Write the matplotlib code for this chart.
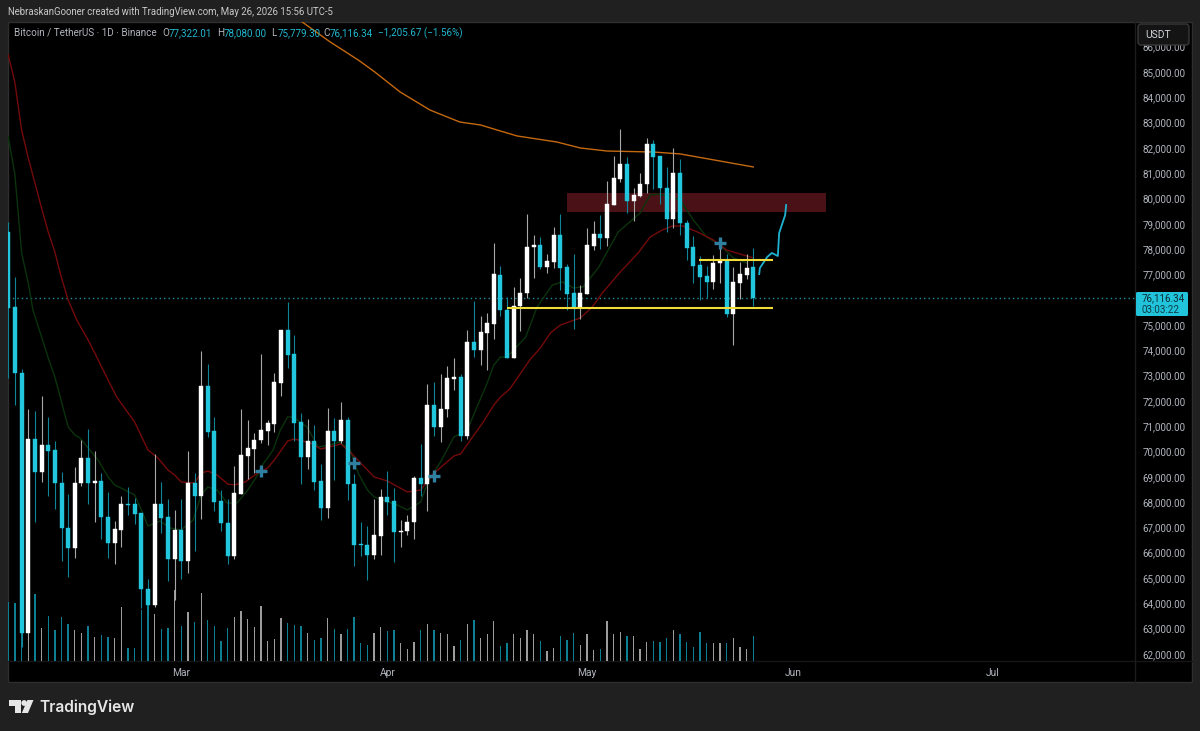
import matplotlib
matplotlib.use("Agg")
import matplotlib.pyplot as plt
from matplotlib.patches import Rectangle, FancyBboxPatch, Polygon, Circle
from matplotlib.transforms import ScaledTranslation

opens = [78715,75750,73140,62860,70530,69225,70295,70095,68790,67015,
 66220,68790,69780,68790,68870,67450,66420,66935,67960,67960,
 67605,64600,63970,67960,67450,65785,66935,65710,68790,68280,
 72625,70850,68080,67210,65905,68355,69860,70135,70490,70850,
 71125,72745,74840,73890,71205,69820,70450,68870,67805,70850,
 70450,71280,68750,66380,66340,65945,66695,68240,68080,66855,
 66895,67250,68990,68750,71875,71005,71715,72900,72980,70650,
 74365,74050,74720,75075,77015,75630,73735,75790,76300,78120,
 78200,77330,77530,78595,77330,76300,75710,76265,78160,78635,
 78475,79780,80810,81400,79940,80135,80610,82190,81720,80450,
 79230,81045,79070,78120,77410,76975,76735,77490,77570,75470,
 76700,77015,77322]
closes = [75710,73140,62860,70530,69225,70295,70055,68790,67015,66220,
 68790,69780,68790,68870,67450,66420,66975,67960,67920,67565,
 64600,63970,67960,67410,65785,66935,65710,68790,68280,72625,
 70810,68040,67210,65905,68395,69900,70175,70490,70885,71165,
 72785,74840,73850,71165,69820,70450,68830,67805,70850,70450,
 71280,68750,66340,66340,65945,66735,68240,68040,66855,66895,
 67250,68990,68750,71875,71005,71715,72940,72980,70650,74365,
 74050,74760,75115,77055,75630,73735,75790,76300,78120,78200,
 77330,77570,78595,77290,76265,75710,76300,78200,78635,78475,
 79820,80850,81400,79940,80175,80610,82190,81680,80450,79230,
 81045,79070,78080,77370,76935,76735,77490,77570,75470,76735,
 77055,77290,76116]
highs = [79110,76935,73300,71715,71640,72230,71400,70450,69225,68355,
 69425,70490,70925,70055,69185,68435,67290,68280,68635,68200,
 67605,65000,69940,68830,68160,67725,68160,70055,69185,74010,
 73495,71400,68515,68160,69465,71715,71280,70770,73890,71280,
 73140,74840,75950,74640,71560,71320,71085,69540,71755,71360,
 71995,71400,69145,67250,67090,68160,68555,69265,68595,67330,
 67525,69070,70335,72705,72785,73100,73415,73730,73100,74840,
 75985,75395,75510,78280,77370,76145,76540,76895,79425,78595,
 78515,77845,78910,79425,77450,77845,76620,78870,79150,79385,
 80730,81720,82785,81680,80450,81045,82430,82350,81720,81285,
 82035,81600,79190,78555,77765,77370,77805,78435,77845,77330,
 77530,77845,78080]
lows = [72940,71875,62300,62585,67250,68830,68280,67765,65710,65075,
 65825,68670,67960,67250,66580,65825,65590,66260,67525,67170,
 63850,63575,63890,66815,64920,64165,65000,65235,66105,67370,
 70610,67685,66895,65590,65785,68355,68950,69185,70375,70295,
 70810,72230,73340,70450,68750,69345,68515,67330,67410,68910,
 70375,68120,65510,65905,64960,65785,65945,67525,65670,66260,
 66735,66580,68280,67685,70650,70410,71400,72470,70450,70530,
 73770,73455,73260,74485,75395,73735,73735,74800,76105,76895,
 77250,77095,77290,76420,75630,74880,75275,76265,78000,78040,
 78160,79780,80690,79465,79150,80095,80255,80415,79820,78715,
 78870,78595,77605,76700,76025,76105,76460,76700,75355,74250,
 76065,76855,75779]
volumes = [177,175,200,200,201,99,135,94,132,111,
 94,84,104,72,78,72,68,161,39,39,
 152,168,141,96,99,213,106,147,116,204,
 123,105,61,99,132,149,125,102,164,60,
 65,130,114,108,104,84,63,70,130,96,
 82,96,132,54,48,84,102,90,93,54,
 36,56,94,111,92,84,82,44,63,111,
 123,68,80,120,44,54,80,70,92,80,
 60,30,39,75,63,84,48,80,32,36,
 120,80,87,75,75,36,58,60,58,70,
 92,82,58,42,87,54,54,54,54,70,
 42,36,75]

ma_red_idx = [0,1,2,3,4,5,6,7,8,9,10.3,12,13,15,16.3,19,21,22.5,24,25,26,28,29,30,31.4,33,34,35.6,37.5,39,40,42,43,45.4,47,50,51.4,54,55,57,60,62,63.7,67,68,71.4,73,74,75.4,78.5,80,81.5,83,86,87.8,89.3,92,94.7,96.5,98.3,99.8,101.4,103.6,106,108,110,112]
ma_red_val = [85710,84605,82745,81640,80650,79660,78715,77925,76895,76025,75235,74445,73930,72865,72190,71200,70095,69780,69305,69110,68830,68790,69185,69265,69110,68750,68715,68830,69185,69385,69700,70450,70530,70375,70135,70335,70015,69305,69030,68870,68435,68515,69110,69860,69940,71200,71875,72190,72510,73690,74130,74720,75035,75315,75750,76300,77130,77885,78515,78790,78950,78950,78715,78400,78000,77845,77690]
ma_green_idx = [0,1,2,3,3.7,5,6.1,7,9,10,10.8,12,13.5,15,16,19,20,21,22.8,24.3,26,27.8,29,30,31.4,32.9,34.4,36,37.5,38,39.8,40.9,42,42.8,44.9,46.6,48.3,49.8,51.4,52.6,54,55,58.5,60,62,63,64.9,67,69,72,73,74,75,77.8,79.5,81.8,83.3,85,86.4,88.7,91.7,95,96.5,98,101,103,105,107,109,111]
ma_green_val = [82470,80965,77885,76700,75630,74565,73655,72985,71005,70690,70570,70175,69700,69030,68715,68320,67725,67090,67290,67015,66935,67330,68320,68635,68515,68000,68000,68515,69110,69425,70095,70885,71400,71400,71005,70215,70295,70410,70095,69185,68515,68240,67920,67725,68040,68790,69585,70610,70885,72745,73455,73770,73770,74565,75750,76620,76740,76500,76540,77290,78715,79465,80175,80215,79980,79190,78515,78200,77690,77490]
ma_orange_idx = [44,48.4,52.6,55.1,58.9,63.4,67.9,71,73.5,76.5,82.5,86,90,97,101,107,112]
ma_orange_val = [87050,86225,85515,85040,84250,83535,83060,82945,82745,82510,82270,82035,81915,81875,81800,81520,81285]
path_idx = [112.9,113,114.1,114.8,115.7,115.9,116.8,116.95]
path_val = [77050,77290,77725,77885,77765,78675,79385,79780]
marker_idx = [38,52,64,107]
marker_val = [69265,69580,69070,78280]
zone_idx = [84,123]
zone_val = [79505,80255]
level_upper = (103.8,115,77607)
level_lower = (75,115,75710)
last_price = 76116.34
price_ticks = [p for p in range(62000,87000,1000) if p != 76000]
month_idx = [26,57,87,118,148]
month_names = ["Mar","Apr","May","Jun","Jul"]

W,H = 1200,731
UP,DOWN = "#ffffff","#22c7de"
GREY = "#b2b5be"
FONT = ["Roboto","DejaVu Sans"]
plt.rcParams["font.family"] = FONT

fig = plt.figure(figsize=(W/100,H/100),dpi=100,facecolor="#202020")
def rect(x0,y0,x1,y1):
    return [x0/W,1-y1/H,(x1-x0)/W,(y1-y0)/H]

bg = fig.add_axes([0,0,1,1],zorder=0)
bg.set_xlim(0,W); bg.set_ylim(H,0); bg.axis("off")
bg.add_patch(Rectangle((8,22),1184,660,fc="#000000",ec="#2e2e2e",lw=1))
bg.plot([8,1192],[661,661],color="#161616",lw=1)
bg.plot([1135,1135],[22,682],color="#1c1c1c",lw=1)

xlim = (-0.045,169.4)
ylim = (61755,87015)
vol = fig.add_axes(rect(8,22,1135,661),zorder=1)
vol.set_xlim(*xlim); vol.set_ylim(0,1917); vol.axis("off")
idx = list(range(len(closes)))
vcol = ["#9c9c9c" if c>=o else "#0c7f92" for o,c in zip(opens,closes)]
vol.bar(idx,volumes,width=0.2,color=vcol,linewidth=0)

ax = fig.add_axes(rect(8,22,1135,661),zorder=2)
ax.patch.set_alpha(0)
ax.set_xlim(*xlim); ax.set_ylim(*ylim)
for s in ax.spines.values(): s.set_visible(False)
ax.yaxis.tick_right()
ax.set_yticks(price_ticks)
ax.set_yticklabels([f"{p:,.2f}" for p in price_ticks],color=GREY,fontsize=7.1)
ax.set_xticks(month_idx)
ax.set_xticklabels(month_names,color=GREY,fontsize=7.4)
ax.tick_params(axis="both",length=0)
ax.tick_params(axis="y",pad=5.5)
ax.tick_params(axis="x",pad=5)
shift = ScaledTranslation(0,1/100,fig.dpi_scale_trans)
for lab in ax.get_yticklabels():
    lab.set_transform(lab.get_transform()+shift)

ax.add_patch(Rectangle((zone_idx[0],zone_val[0]),zone_idx[1]-zone_idx[0],zone_val[1]-zone_val[0],
                       fc="#4a1216",ec="none",zorder=1))
ax.axhline(last_price,color="#1c8fa3",lw=1,ls=(0,(1,2.2)),zorder=1.5)
ax.plot(ma_green_idx,ma_green_val,color="#0a330c",lw=1,zorder=1.8)
ax.plot(ma_red_idx,ma_red_val,color="#740a0a",lw=1,zorder=1.8)
ax.plot(ma_orange_idx,ma_orange_val,color="#c4690f",lw=1,zorder=1.8)
wcol = ["#a8a8a8" if c>=o else "#118497" for o,c in zip(opens,closes)]
ax.vlines(idx,lows,highs,colors=wcol,lw=0.8,zorder=2)
ccol = [UP if c>=o else DOWN for o,c in zip(opens,closes)]
ax.bar(idx,[abs(c-o) for o,c in zip(opens,closes)],bottom=[min(o,c) for o,c in zip(opens,closes)],
       width=0.6,color=ccol,edgecolor=ccol,linewidth=0.3,zorder=3)
ax.plot(path_idx,path_val,color="#1fb3d2",lw=1.3,zorder=5)
for a,b,y in (level_upper,level_lower):
    ax.plot([a,b],[y,y],color="#f2dc3a",lw=1.5,zorder=5,solid_capstyle="butt")
ax.plot(marker_idx,marker_val,ls="none",marker="+",ms=8,mew=2.4,color="#2e7fa0",zorder=6)

top = fig.add_axes([0,0,1,1],zorder=3)
top.set_xlim(0,W); top.set_ylim(H,0); top.axis("off"); top.patch.set_alpha(0)
top.add_patch(FancyBboxPatch((1140,26),47,17,boxstyle="round,pad=2,rounding_size=3",fc="#141414",ec="#383838",lw=1))
top.text(1145,35,"USDT",color="#d1d4dc",fontsize=7.4,va="center",ha="left")
top.add_patch(FancyBboxPatch((1136,292),52,24,boxstyle="round,pad=0,rounding_size=1.5",fc="#22c4dc",ec="none"))
top.text(1142,298,"76,116.34",color="#0d2a30",fontsize=7.1,va="center")
top.text(1142,310,"03:03:22",color="#0d3a44",fontsize=7.1,va="center")

top.text(8,12,"NebraskanGooner created with TradingView.com, May 26, 2026 15:56 UTC-5",color="#c8c8c8",fontsize=6.95,va="center")
top.text(14,33,"Bitcoin / TetherUS · 1D · Binance",color=GREY,fontsize=7.15,va="center")
CY = "#22b8d0"
for x,lab,val in ((162,"O","77,322.01"),(217,"H","78,080.00"),(271,"L","75,779.30"),(323,"C","76,116.34")):
    top.text(x,33,lab,color=GREY,fontsize=7.15,va="center")
    top.text(x+6.5,33,val,color=CY,fontsize=7.15,va="center")
top.text(378,33,"−1,205.67 (−1.56%)",color=CY,fontsize=7.15,va="center")

LOGO = "#e6e6e6"
top.add_patch(Polygon([(9,700),(21,700),(21,713),(15,713),(15,706),(9,706)],fc=LOGO,ec="none"))
top.add_patch(Circle((24.2,703),2.9,fc=LOGO,ec="none"))
top.add_patch(Polygon([(27.5,700),(33.5,700),(28,713),(21.8,713)],fc=LOGO,ec="none"))
top.text(39,707,"TradingView",color=LOGO,fontsize=11.2,va="center",fontweight="semibold",family=["Inter","DejaVu Sans"])

fig.savefig("out.png",dpi=100,facecolor=fig.get_facecolor())
